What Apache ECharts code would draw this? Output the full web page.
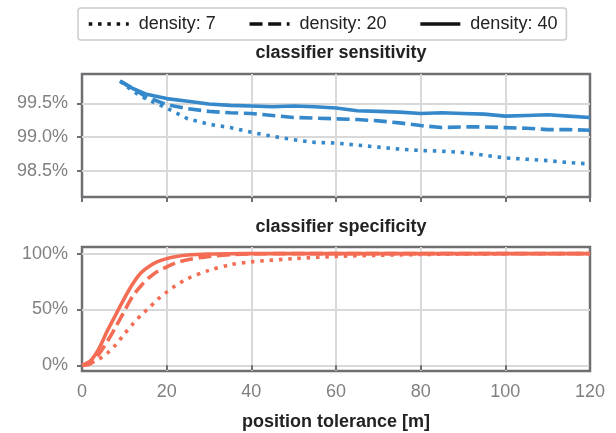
<!DOCTYPE html>
<html>
<head>
<meta charset="utf-8">
<script src="https://cdn.jsdelivr.net/npm/echarts@6/dist/echarts.min.js"></script>
<style>
  html, body { margin: 0; padding: 0; background: #fff; }
  #chart { width: 616px; height: 433px; }
</style>
</head>
<body>
<div id="chart"></div>
<script>
// position tolerance [m]
const sensX = [9, 12, 15, 20, 25, 30, 35, 40, 45, 50, 55, 60, 65, 70, 75, 80, 85, 90, 95, 100, 105, 110, 115, 120]
// classifier sensitivity (%)
const sens7 = [99.83, 99.68, 99.57, 99.43, 99.27, 99.19, 99.14, 99.07, 99.01, 98.96, 98.92, 98.91, 98.88, 98.85, 98.82, 98.80, 98.79, 98.77, 98.73, 98.69, 98.67, 98.65, 98.62, 98.60]
const sens20 = [99.83, 99.72, 99.60, 99.48, 99.42, 99.38, 99.36, 99.35, 99.32, 99.29, 99.28, 99.27, 99.26, 99.24, 99.21, 99.17, 99.14, 99.15, 99.15, 99.14, 99.13, 99.11, 99.11, 99.10]
const sens40 = [99.83, 99.72, 99.64, 99.57, 99.53, 99.49, 99.47, 99.46, 99.45, 99.46, 99.45, 99.43, 99.39, 99.38, 99.37, 99.35, 99.36, 99.35, 99.34, 99.31, 99.32, 99.33, 99.31, 99.29]

const specX = [0, 2, 4, 6, 8, 10, 12, 14, 16, 18, 20, 22, 25, 30, 35, 40, 50, 60, 70, 80, 90, 100, 110, 120]
// classifier specificity (%)
const spec7 = [0, 2, 5.5, 11, 18.5, 28, 37, 45, 52, 59.5, 65.5, 71, 77.7, 85, 90, 92.6, 95.5, 97.5, 98.5, 99.2, 99.6, 99.8, 99.9, 100]
const spec20 = [0, 1.5, 10, 21.5, 34.5, 48.5, 62, 71.5, 79, 84.5, 88, 91.5, 94.5, 97.5, 99, 99.7, 100, 100, 100, 100, 100, 100, 100, 100]
const spec40 = [0, 4, 15, 31, 45.5, 60, 73, 83, 89, 93, 95.5, 97.2, 98.7, 99.6, 99.9, 100, 100, 100, 100, 100, 100, 100, 100, 100]

const legendNames = ['density: 7', 'density: 20', 'density: 40']
const sensTicks = [98.5, 99, 99.5]
const specTicks = [0, 50, 100]

const FONT = 'Liberation Sans'
const BLUE = '#3589cb'
const RED = '#f46c54'
const AXIS = '#6f6f73'
const GRIDC = '#d9d9d9'
const dashTypes = [[3.5, 5.8], [13, 5.6], 'solid']

const pairs = (xs, ys) => xs.map((x, i) => [x, ys[i]])

const chart = echarts.init(document.getElementById('chart'))

function xAxisOf(gridIndex, showLabels) {
  return {
    type: 'value',
    gridIndex: gridIndex,
    min: 0,
    max: 120,
    interval: 20,
    axisLine: { show: false },
    axisTick: { show: true, length: 5, lineStyle: { color: AXIS, width: 2 } },
    axisLabel: { show: showLabels, color: '#808080', fontSize: 18, fontFamily: FONT, margin: 12 },
    splitLine: { show: true, showMinLine: false, showMaxLine: false, lineStyle: { color: GRIDC, width: 2 } },
    name: showLabels ? 'position tolerance [m]' : '',
    nameLocation: 'middle',
    nameGap: 42,
    nameTextStyle: { color: '#222', fontSize: 18, fontWeight: 'bold', fontFamily: FONT }
  }
}

function yAxisOf(gridIndex, min, max, ticks, fmt) {
  return {
    type: 'value',
    gridIndex: gridIndex,
    min: min,
    max: max,
    axisLine: { show: false },
    axisTick: { show: true, length: 5, customValues: ticks, lineStyle: { color: AXIS, width: 2 } },
    axisLabel: { color: '#808080', fontSize: 18, fontFamily: FONT, margin: 14, customValues: ticks, formatter: fmt },
    splitLine: { show: true, lineStyle: { color: GRIDC, width: 2 } }
  }
}

const series = []
// black samples used only for the legend
legendNames.forEach((name, i) => {
  series.push({
    name: name,
    type: 'line',
    xAxisIndex: 0,
    yAxisIndex: 0,
    data: [],
    symbol: 'none',
    itemStyle: { color: '#111' },
    lineStyle: { color: '#111', width: 3.5, type: dashTypes[i], cap: 'butt' }
  })
})
;[sens7, sens20, sens40].forEach((vals, i) => {
  series.push({
    name: legendNames[i],
    type: 'line',
    xAxisIndex: 0,
    yAxisIndex: 0,
    data: pairs(sensX, vals),
    symbol: 'none',
    itemStyle: { color: BLUE },
    lineStyle: { color: BLUE, width: 3.6, type: dashTypes[i], cap: 'butt' }
  })
})
;[spec7, spec20, spec40].forEach((vals, i) => {
  series.push({
    name: legendNames[i],
    type: 'line',
    xAxisIndex: 1,
    yAxisIndex: 1,
    data: pairs(specX, vals),
    symbol: 'none',
    smooth: 0.3,
    itemStyle: { color: RED },
    lineStyle: { color: RED, width: 3.6, type: dashTypes[i], cap: 'butt' }
  })
})

chart.setOption({
  animation: false,
  textStyle: { fontFamily: FONT },
  title: [
    {
      text: 'classifier sensitivity',
      left: 336,
      top: 39,
      textAlign: 'center',
      textStyle: { color: '#222', fontSize: 18, fontWeight: 'bold', fontFamily: FONT }
    },
    {
      text: 'classifier specificity',
      left: 336,
      top: 213,
      textAlign: 'center',
      textStyle: { color: '#222', fontSize: 18, fontWeight: 'bold', fontFamily: FONT }
    }
  ],
  legend: {
    data: legendNames,
    left: 78,
    top: 8,
    padding: [7, 9],
    itemGap: 32,
    itemWidth: 40,
    itemHeight: 14,
    borderColor: '#cccccc',
    borderWidth: 1.5,
    borderRadius: 3,
    selectedMode: false,
    itemStyle: { opacity: 0 },
    lineStyle: { width: 3.5 },
    textStyle: { color: '#222', fontSize: 18, fontFamily: FONT, padding: [0, 0, 0, 5] }
  },
  grid: [
    { left: 82, top: 74, width: 508, height: 123, show: true, borderColor: AXIS, borderWidth: 2.5, backgroundColor: 'transparent' },
    { left: 82, top: 247, width: 508, height: 124, show: true, borderColor: AXIS, borderWidth: 2.5, backgroundColor: 'transparent' }
  ],
  xAxis: [xAxisOf(0, false), xAxisOf(1, true)],
  yAxis: [
    yAxisOf(0, 98.11, 99.935, sensTicks, v => v.toFixed(1) + '%'),
    yAxisOf(1, -5.1, 105.9, specTicks, v => v + '%')
  ],
  series: series
})
</script>
</body>
</html>
